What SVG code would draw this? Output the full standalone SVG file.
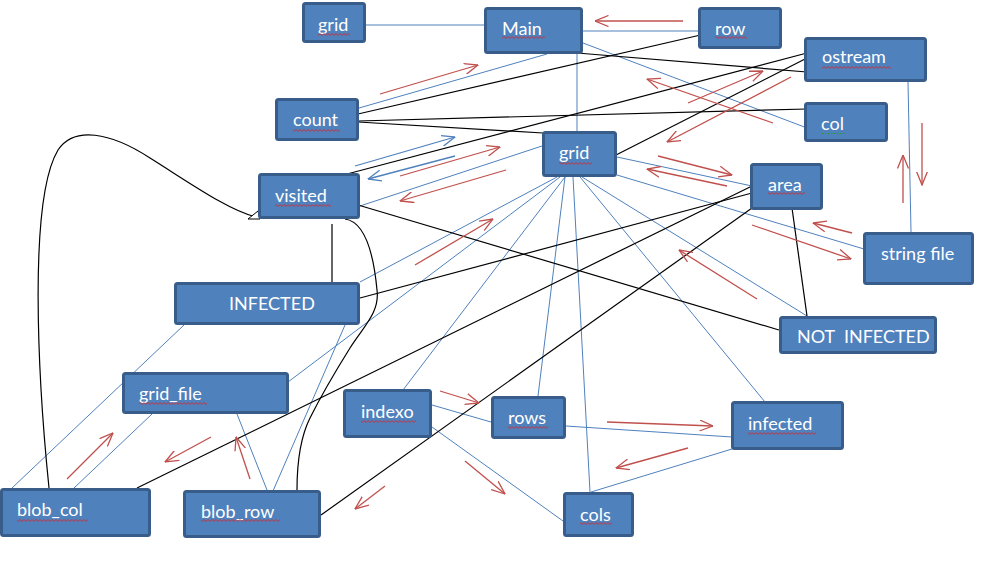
<svg xmlns="http://www.w3.org/2000/svg" width="1005" height="566" viewBox="0 0 1005 566">
<style>
.bx{fill:#4f81bd;stroke:#385d8a;stroke-width:3}
.n text{font-family:Lato,"Liberation Sans",sans-serif;font-size:18px;fill:#ffffff}
.b{stroke:#4f81bd;stroke-width:1;fill:none}
.k{stroke:#000000;stroke-width:1.2;fill:none}
.r{stroke:#c0504d;stroke-width:1.3;fill:none;marker-end:url(#ra)}
.ba{stroke:#4f81bd;stroke-width:1.3;fill:none;marker-end:url(#ba)}
.sq{fill:url(#sq);stroke:none}
.sg{fill:url(#sg);stroke:none}
</style>
<defs>
<marker id="ra" viewBox="0 0 14 12" refX="13.5" refY="6" markerWidth="14" markerHeight="12" markerUnits="userSpaceOnUse" orient="auto"><path d="M0,0.5 L13.5,6 L0,11.5" fill="none" stroke="#c0504d" stroke-width="1.3"/></marker>
<marker id="ba" viewBox="0 0 14 12" refX="13.5" refY="6" markerWidth="14" markerHeight="12" markerUnits="userSpaceOnUse" orient="auto"><path d="M0,0.5 L13.5,6 L0,11.5" fill="none" stroke="#4f81bd" stroke-width="1.3"/></marker>
<pattern id="sq" patternUnits="userSpaceOnUse" width="4" height="3"><path d="M0,0.6 L2,2.4 L4,0.6" fill="none" stroke="#e02020" stroke-width="0.8"/></pattern>
<pattern id="sg" patternUnits="userSpaceOnUse" width="3" height="3"><rect x="0" y="1" width="1.5" height="1" fill="#2a9a2a"/></pattern>
</defs>
<rect width="1005" height="566" fill="#ffffff"/>
<g id="connectors">
<line class="b" x1="366" y1="25" x2="484" y2="25"/>
<line class="b" x1="583" y1="31" x2="698" y2="31"/>
<line class="b" x1="583" y1="43" x2="807" y2="128"/>
<line class="b" x1="577" y1="54" x2="577" y2="131"/>
<line class="b" x1="547" y1="54" x2="359" y2="108"/>
<line class="b" x1="908" y1="82" x2="911" y2="232"/>
<line class="b" x1="542" y1="146" x2="360" y2="206"/>
<line class="b" x1="617" y1="157" x2="752" y2="186"/>
<line class="b" x1="617" y1="175" x2="864" y2="249"/>
<line class="b" x1="582" y1="177" x2="807" y2="316"/>
<line class="b" x1="580" y1="177" x2="765" y2="402"/>
<line class="b" x1="573" y1="177" x2="590" y2="492"/>
<line class="b" x1="565" y1="177" x2="538" y2="396"/>
<line class="b" x1="565" y1="177" x2="403" y2="390"/>
<line class="b" x1="560" y1="177" x2="288" y2="382"/>
<line class="b" x1="557" y1="177" x2="360" y2="282"/>
<line class="b" x1="184" y1="325" x2="12" y2="488"/>
<line class="b" x1="152" y1="414" x2="74" y2="488"/>
<line class="b" x1="237" y1="414" x2="267" y2="490"/>
<line class="b" x1="345" y1="325" x2="273" y2="491"/>
<line class="b" x1="432" y1="405" x2="491" y2="422"/>
<line class="b" x1="432" y1="427" x2="563" y2="521"/>
<line class="b" x1="566" y1="426" x2="732" y2="437"/>
<line class="b" x1="732" y1="449" x2="591" y2="492"/>
<line class="k" x1="358" y1="114" x2="705" y2="34"/>
<line class="k" x1="358" y1="121" x2="807" y2="109"/>
<line class="k" x1="358" y1="122" x2="543" y2="133"/>
<line class="k" x1="577" y1="53" x2="807" y2="72"/>
<line class="k" x1="347" y1="174" x2="807" y2="53"/>
<line class="k" x1="616" y1="155" x2="807" y2="58"/>
<line class="k" x1="358" y1="205" x2="779" y2="330"/>
<line class="k" x1="360" y1="298" x2="752" y2="193"/>
<line class="k" x1="137" y1="488" x2="752" y2="186"/>
<line class="k" x1="321" y1="515" x2="752" y2="208"/>
<line class="k" x1="792" y1="208" x2="807" y2="316"/>
<line class="k" x1="332" y1="224" x2="332" y2="283"/>
<path class="k" d="M49,488 C38,380 28,200 58,150 C74,126 110,132 150,158 C190,183 228,210 256,217"/>
<path d="M248,219 L258,211 L260,219 Z" fill="#ffffff" stroke="#000" stroke-width="1"/>
<path class="k" d="M297,490 C297,465 299,440 310,418 C320,398 335,372 350,348 C364,326 380,312 377,290 C374,258 366,222 345,219"/>
<line class="r" x1="683" y1="21" x2="595" y2="21"/>
<line class="r" x1="380" y1="94" x2="478" y2="65"/>
<line class="r" x1="688" y1="103" x2="763" y2="71"/>
<line class="r" x1="773" y1="123" x2="647" y2="79"/>
<line class="r" x1="791" y1="77" x2="667" y2="142"/>
<line class="r" x1="903" y1="203" x2="903" y2="155"/>
<line class="r" x1="922" y1="123" x2="922" y2="185"/>
<line class="r" x1="658" y1="156" x2="732" y2="175"/>
<line class="r" x1="727" y1="186" x2="647" y2="169"/>
<line class="r" x1="852" y1="233" x2="813" y2="223"/>
<line class="r" x1="752" y1="225" x2="851" y2="259"/>
<line class="r" x1="757" y1="299" x2="679" y2="250"/>
<line class="r" x1="400" y1="176" x2="500" y2="147"/>
<line class="r" x1="506" y1="170" x2="400" y2="201"/>
<line class="r" x1="415" y1="265" x2="493" y2="219"/>
<line class="r" x1="67" y1="479" x2="113" y2="433"/>
<line class="r" x1="211" y1="437" x2="165" y2="462"/>
<line class="r" x1="250" y1="479" x2="236" y2="437"/>
<line class="r" x1="385" y1="486" x2="355" y2="509"/>
<line class="r" x1="440" y1="391" x2="479" y2="403"/>
<line class="r" x1="465" y1="461" x2="505" y2="494"/>
<line class="r" x1="607" y1="422" x2="713" y2="426"/>
<line class="r" x1="688" y1="448" x2="616" y2="468"/>
<line class="ba" x1="355" y1="166" x2="455" y2="137"/>
<line class="ba" x1="455" y1="156" x2="368" y2="179"/>
</g>
<g id="node-grid-top" class="n"><rect class="bx" x="303.5" y="3.5" width="61" height="38" rx="2"/><text x="318" y="31">grid</text><rect class="sq" x="318" y="33" width="32" height="3"/></g>
<g id="node-main" class="n"><rect class="bx" x="485.5" y="8.5" width="96" height="44" rx="2"/><text x="502" y="35">Main</text><rect class="sq" x="502" y="36" width="43" height="3"/></g>
<g id="node-row" class="n"><rect class="bx" x="699.5" y="8.5" width="81" height="39" rx="2"/><text x="715" y="35">row</text><rect class="sq" x="715" y="36" width="32" height="3"/></g>
<g id="node-ostream" class="n"><rect class="bx" x="805.5" y="38.5" width="120" height="42" rx="2"/><text x="822" y="63">ostream</text><rect class="sq" x="822" y="66" width="69" height="3"/></g>
<g id="node-col" class="n"><rect class="bx" x="805.5" y="103.5" width="81" height="37" rx="2"/><text x="821" y="130">col</text><rect class="sg" x="821" y="132" width="25" height="3"/></g>
<g id="node-count" class="n"><rect class="bx" x="276.5" y="99.5" width="81" height="40" rx="2"/><text x="293" y="126">count</text><rect class="sq" x="293" y="129" width="47" height="3"/></g>
<g id="node-visited" class="n"><rect class="bx" x="259.5" y="174.5" width="99" height="43" rx="2"/><text x="275" y="202">visited</text><rect class="sq" x="275" y="204" width="56" height="3"/></g>
<g id="node-infected-upper" class="n"><rect class="bx" x="175.5" y="283.5" width="183" height="40" rx="2"/><text x="229" y="310">INFECTED</text></g>
<g id="node-grid-center" class="n"><rect class="bx" x="543.5" y="132.5" width="72" height="43" rx="2"/><text x="559" y="159">grid</text><rect class="sq" x="559" y="162" width="33" height="3"/></g>
<g id="node-area" class="n"><rect class="bx" x="751.5" y="164.5" width="70" height="44" rx="2"/><text x="768" y="191">area</text><rect class="sq" x="768" y="192" width="37" height="3"/></g>
<g id="node-string-file" class="n"><rect class="bx" x="864.5" y="233.5" width="108" height="50" rx="2"/><text x="881" y="260">string file</text></g>
<g id="node-not-infected" class="n"><rect class="bx" x="780.5" y="317.5" width="155" height="35" rx="2"/><text x="797" y="343" xml:space="preserve">NOT  INFECTED</text></g>
<g id="node-grid-file" class="n"><rect class="bx" x="123.5" y="373.5" width="164" height="39" rx="2"/><text x="139" y="400">grid_file</text><rect class="sq" x="139" y="402" width="68" height="3"/></g>
<g id="node-blob-col" class="n"><rect class="bx" x="1.5" y="489.5" width="148" height="46" rx="2"/><text x="17" y="516">blob_col</text><rect class="sq" x="17" y="519" width="71" height="3"/></g>
<g id="node-blob-row" class="n"><rect class="bx" x="184.5" y="491.5" width="135" height="45" rx="2"/><text x="201" y="518">blob_row</text><rect class="sq" x="201" y="519" width="79" height="3"/></g>
<g id="node-indexo" class="n"><rect class="bx" x="344.5" y="390.5" width="86" height="46" rx="2"/><text x="361" y="418">indexo</text><rect class="sq" x="361" y="420" width="55" height="3"/></g>
<g id="node-rows" class="n"><rect class="bx" x="492.5" y="397.5" width="72" height="40" rx="2"/><text x="508" y="424">rows</text><rect class="sq" x="508" y="426" width="40" height="3"/></g>
<g id="node-infected-lower" class="n"><rect class="bx" x="732.5" y="402.5" width="110" height="46" rx="2"/><text x="748" y="430">infected</text><rect class="sq" x="748" y="432" width="68" height="3"/></g>
<g id="node-cols" class="n"><rect class="bx" x="564.5" y="493.5" width="68" height="42" rx="2"/><text x="580" y="521">cols</text><rect class="sq" x="580" y="522" width="32" height="3"/></g>
</svg>
